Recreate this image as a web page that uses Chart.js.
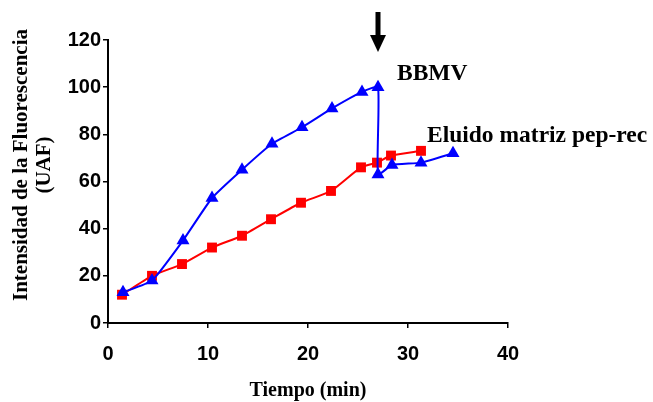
<!DOCTYPE html>
<html>
<head>
<meta charset="utf-8">
<script src="https://cdn.jsdelivr.net/npm/chart.js@4.4.0/dist/chart.umd.min.js"></script>
<style>
  html, body { margin: 0; padding: 0; background: #fff; }
  #wrap { width: 653px; height: 402px; }
</style>
</head>
<body>
<div id="wrap"><canvas id="grafica"></canvas></div>
<script>
// tiempos (min) y valores
var bbmvX = [1.5, 4.4, 7.5, 10.4, 13.4, 16.4, 19.4, 22.4, 25.4, 27.0, 27.0, 28.4, 31.3, 34.5];
var bbmvY = [13, 18, 35, 53, 65, 76, 83, 91, 98, 100, 63, 67, 68, 72];
var eluidoX = [1.4, 4.4, 7.4, 10.4, 13.4, 16.3, 19.3, 22.3, 25.3, 26.9, 28.3, 31.3];
var eluidoY = [12, 20, 25, 32, 37, 44, 51, 56, 66, 68, 71, 73];
var xTicks = [0, 10, 20, 30, 40];
var yTicks = [0, 20, 40, 60, 80, 100, 120];
var arrowAt = 27;
var yTitle = ['Intensidad de la Fluorescencia', '(UAF)'];

function toPoints(xs, ys){
    var pts = [];
    for(var i=0; i<xs.length; i++){
        pts.push({x: xs[i], y: ys[i]});
    }
    return pts;
}

var serif = '"Liberation Serif", "Times New Roman", serif';

// flecha, etiquetas de las series y titulo del eje y
var extras = {
    id: 'extras',
    afterDatasetsDraw: function(chart){
        var ctx = chart.ctx;
        var xs = chart.scales.x;
        var ax = xs.getPixelForValue(arrowAt);
        ctx.save();
        ctx.fillStyle = '#000';
        ctx.fillRect(ax - 2.5, 12, 5, 24);
        ctx.beginPath();
        ctx.moveTo(ax - 8, 35);
        ctx.lineTo(ax + 8, 35);
        ctx.lineTo(ax, 52);
        ctx.closePath();
        ctx.fill();

        ctx.font = 'bold 23.5px ' + serif;
        ctx.textBaseline = 'middle';
        ctx.textAlign = 'left';
        ctx.fillText('BBMV', 397, 74);
        ctx.fillText('Eluido matriz pep-rec', 427, 136);

        // titulo vertical
        ctx.font = 'bold 21px ' + serif;
        ctx.textAlign = 'center';
        ctx.translate(0, 165);
        ctx.rotate(-Math.PI / 2);
        ctx.fillText(yTitle[0], 0, 22);
        ctx.fillText(yTitle[1], 0, 45);
        ctx.restore();
    }
};

var tickFont = { family: '"Liberation Sans", Arial, sans-serif', size: 20, weight: 'bold' };
var titleFont = { family: serif, size: 20, weight: 'bold' };

var ctx = document.getElementById('grafica').getContext('2d');
var chart = new Chart(ctx, {
    type: 'scatter',
    data: {
        datasets: [{
            label: 'BBMV',
            data: toPoints(bbmvX, bbmvY),
            showLine: true,
            borderColor: '#0000ff',
            backgroundColor: '#0000ff',
            borderWidth: 2,
            pointStyle: 'triangle',
            pointRadius: 7.5,
            pointBorderWidth: 0,
            tension: 0.15
        }, {
            label: 'Eluido matriz pep-rec',
            data: toPoints(eluidoX, eluidoY),
            showLine: true,
            borderColor: '#ff0000',
            backgroundColor: '#ff0000',
            borderWidth: 2,
            pointStyle: 'rect',
            pointRadius: 7,
            pointBorderWidth: 0,
            tension: 0.2
        }]
    },
    options: {
        responsive: true,
        maintainAspectRatio: false,
        animation: false,
        layout: {
            padding: { top: 40, right: 145, left: 0, bottom: 0 }
        },
        plugins: {
            legend: { display: false },
            tooltip: { enabled: false }
        },
        scales: {
            x: {
                type: 'linear',
                min: 0,
                max: 40,
                afterBuildTicks: function(axis){
                    axis.ticks = xTicks.map(function(v){ return {value: v}; });
                },
                afterFit: function(axis){ axis.height = 79; },
                grid: {
                    drawOnChartArea: false,
                    color: '#000',
                    lineWidth: 1.5,
                    tickLength: 5
                },
                border: { color: '#000', width: 2 },
                ticks: { color: '#000', font: tickFont, padding: 14, maxRotation: 0 },
                title: {
                    display: true,
                    text: 'Tiempo (min)',
                    color: '#000',
                    font: titleFont,
                    padding: { top: 22, bottom: -1 }
                }
            },
            y: {
                type: 'linear',
                min: 0,
                max: 120,
                afterBuildTicks: function(axis){
                    axis.ticks = yTicks.map(function(v){ return {value: v}; });
                },
                afterFit: function(axis){ axis.width = 108; },
                grid: {
                    drawOnChartArea: false,
                    color: '#000',
                    lineWidth: 1.5,
                    tickLength: 5
                },
                border: { color: '#000', width: 2 },
                ticks: { color: '#000', font: tickFont, padding: 2 },
                title: { display: false }
            }
        }
    },
    plugins: [extras]
});
</script>
</body>
</html>
